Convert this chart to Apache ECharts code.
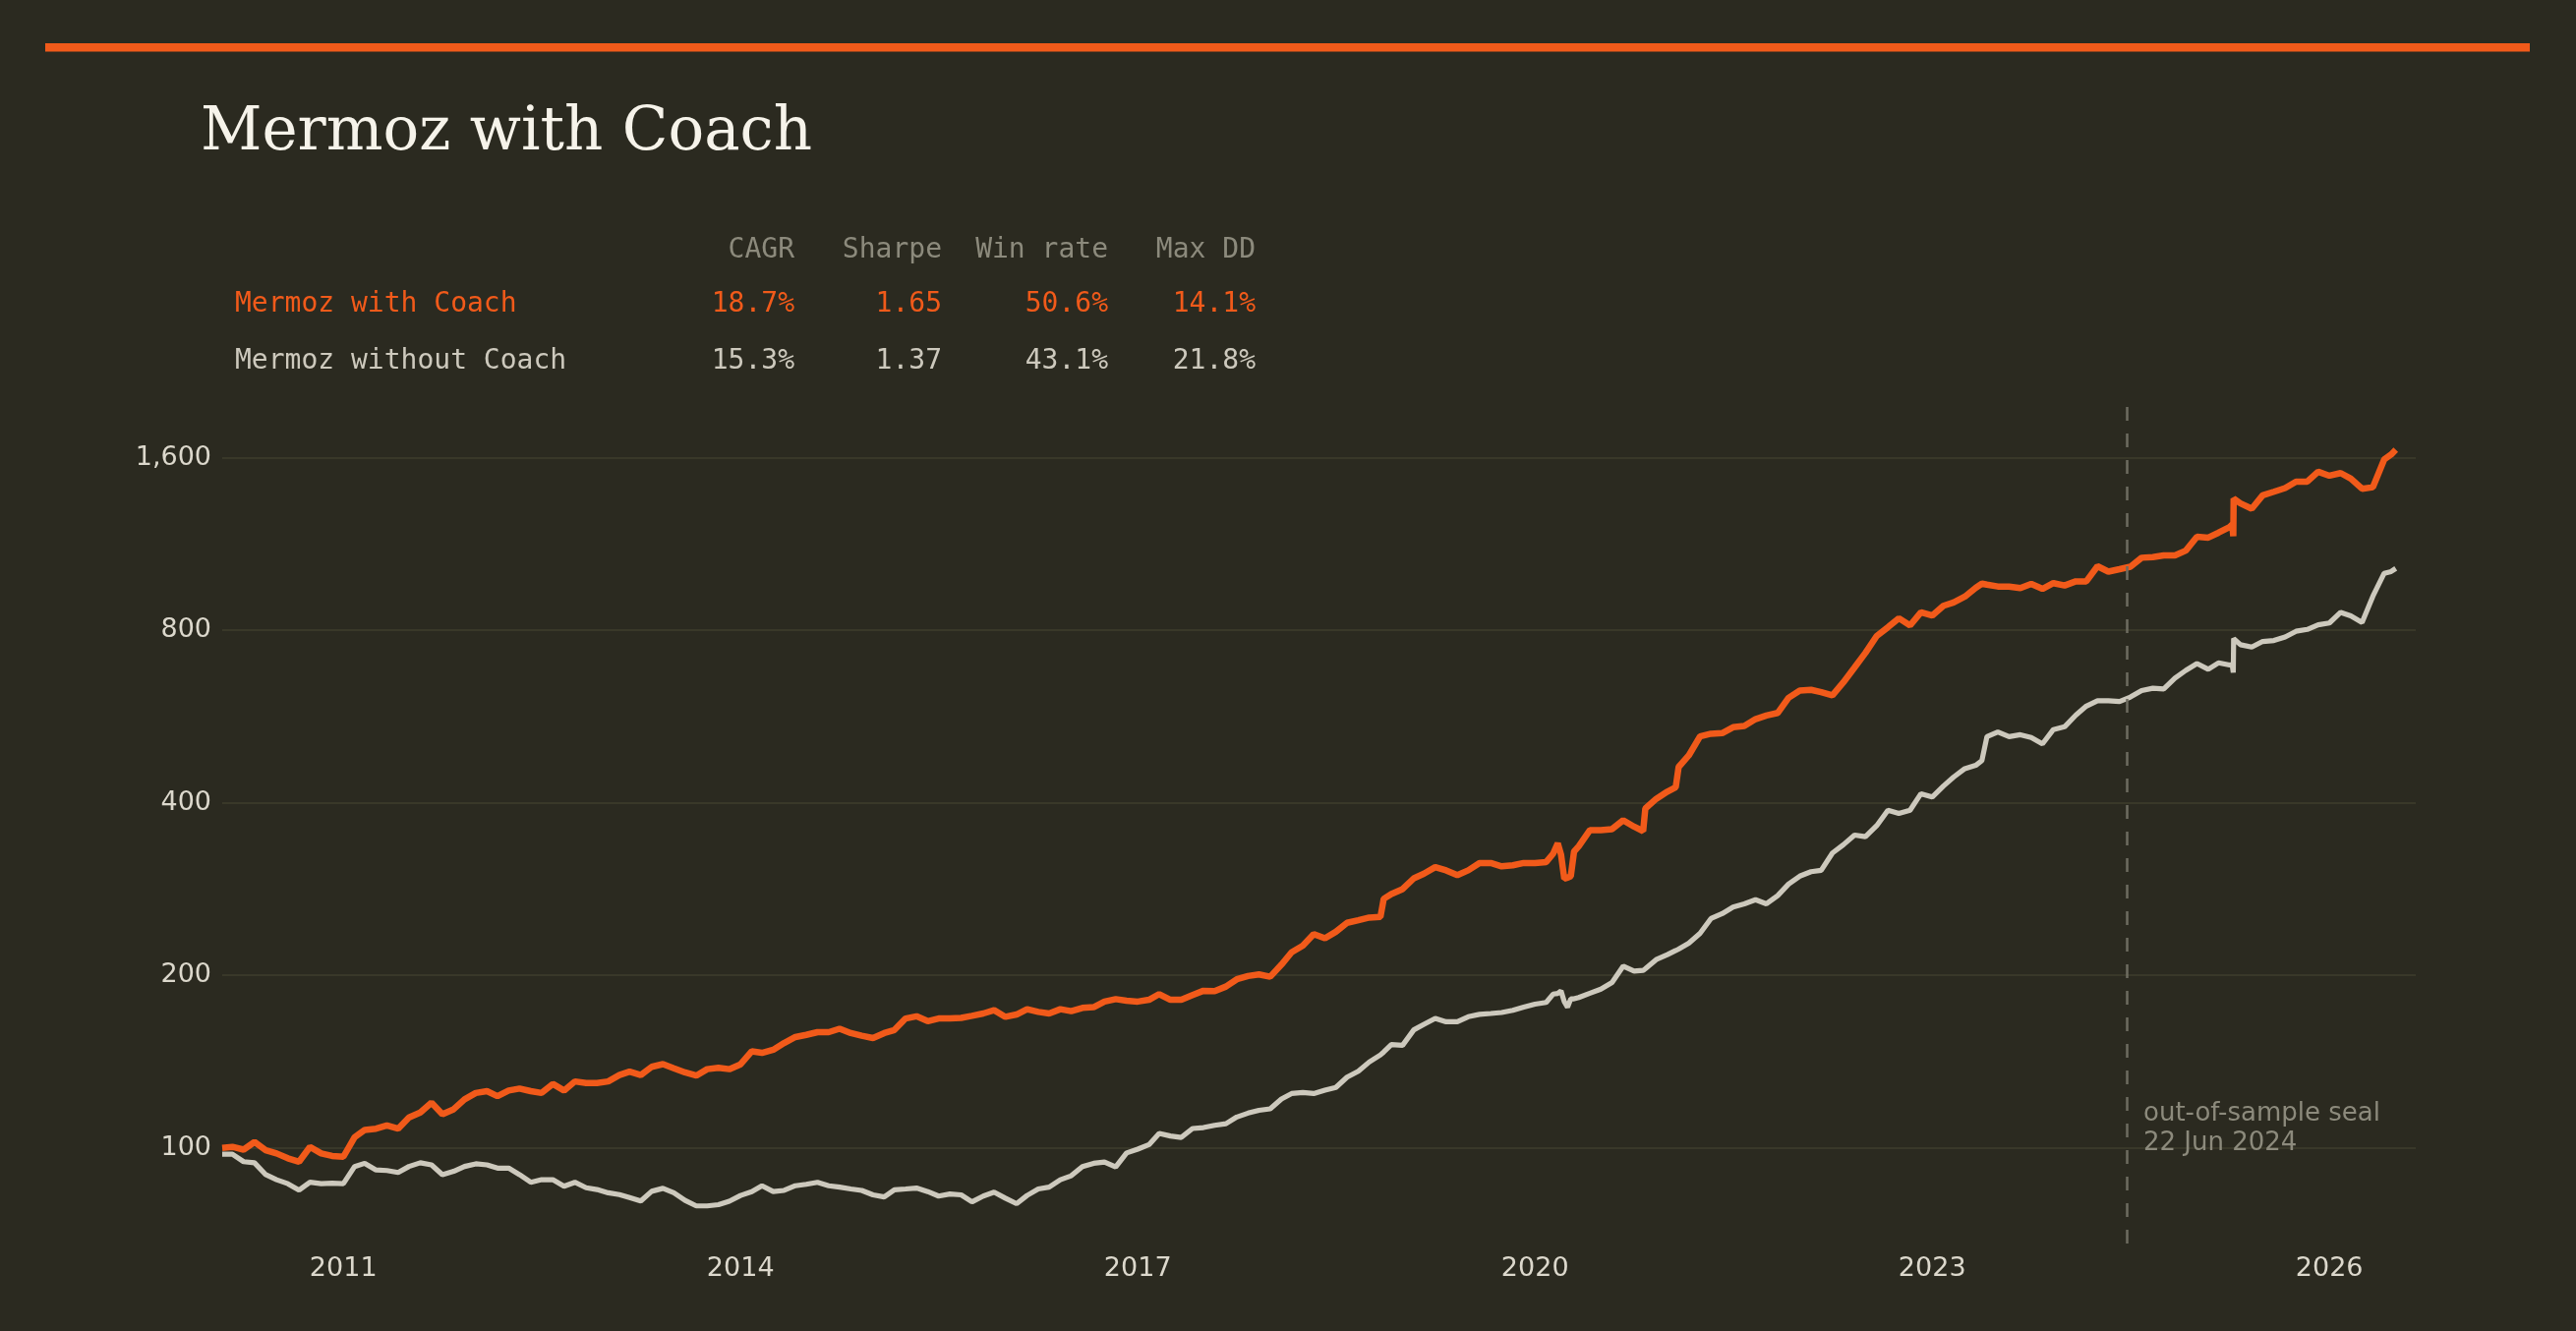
<!DOCTYPE html>
<html>
<head>
<meta charset="utf-8">
<script src="https://cdn.jsdelivr.net/npm/echarts@6/dist/echarts.min.js"></script>
<style>
html,body{margin:0;padding:0;background:#2b2a20;}
#chart{width:2620px;height:1354px;}
</style>
</head>
<body>
<div id="chart"></div>
<script>
// ---------- data ----------
const dates = [
  '2010-02-01','2010-03-01','2010-04-01','2010-05-01','2010-06-01','2010-07-01','2010-08-01','2010-09-01','2010-10-01','2010-11-01','2010-12-01',
  '2011-01-01','2011-02-01','2011-03-01','2011-04-01','2011-05-01','2011-06-01','2011-07-01','2011-08-01','2011-09-01','2011-10-01','2011-11-01','2011-12-01',
  '2012-01-01','2012-02-01','2012-03-01','2012-04-01','2012-05-01','2012-06-01','2012-07-01','2012-08-01','2012-09-01','2012-10-01','2012-11-01','2012-12-01',
  '2013-01-01','2013-02-01','2013-03-01','2013-04-01','2013-05-01','2013-06-01','2013-07-01','2013-08-01','2013-09-01','2013-10-01','2013-11-01','2013-12-01',
  '2014-01-01','2014-02-01','2014-03-01','2014-04-01','2014-05-01','2014-06-01','2014-07-01','2014-08-01','2014-09-01','2014-10-01','2014-11-01','2014-12-01',
  '2015-01-01','2015-02-01','2015-03-01','2015-04-01','2015-05-01','2015-06-01','2015-07-01','2015-08-01','2015-09-01','2015-10-01','2015-11-01','2015-12-01',
  '2016-01-01','2016-02-01','2016-03-01','2016-04-01','2016-05-01','2016-06-01','2016-07-01','2016-08-01','2016-09-01','2016-10-01','2016-11-01','2016-12-01',
  '2017-01-01','2017-02-01','2017-03-01','2017-04-01','2017-05-01','2017-06-01','2017-07-01','2017-08-01','2017-09-01','2017-10-01','2017-11-01','2017-12-01',
  '2018-01-01','2018-02-01','2018-03-01','2018-04-01','2018-05-01','2018-06-01','2018-07-01','2018-08-01','2018-09-01','2018-10-01','2018-11-01','2018-11-10','2018-12-01',
  '2019-01-01','2019-02-01','2019-03-01','2019-04-01','2019-05-01','2019-06-01','2019-07-01','2019-08-01','2019-09-01','2019-10-01','2019-11-01','2019-12-01',
  '2020-01-01','2020-02-01','2020-02-20','2020-03-04','2020-03-13','2020-03-22','2020-03-31','2020-04-09','2020-04-18','2020-05-01','2020-06-01','2020-07-01','2020-08-01','2020-09-01','2020-10-01','2020-10-26','2020-11-01','2020-12-01',
  '2021-01-01','2021-01-24','2021-02-01','2021-03-01','2021-04-01','2021-05-01','2021-06-01','2021-07-01','2021-08-01','2021-09-01','2021-10-01','2021-11-01','2021-12-01',
  '2022-01-01','2022-02-01','2022-03-01','2022-04-01','2022-05-01','2022-06-01','2022-07-01','2022-08-01','2022-09-01','2022-10-01','2022-11-01','2022-12-01',
  '2023-01-01','2023-02-01','2023-03-01','2023-04-01','2023-05-01','2023-05-18','2023-06-01','2023-07-01','2023-08-01','2023-09-01','2023-10-01','2023-11-01','2023-12-01',
  '2024-01-01','2024-02-01','2024-03-01','2024-04-01','2024-05-01','2024-06-01','2024-07-01','2024-08-01','2024-09-01','2024-10-01','2024-11-01','2024-12-01',
  '2025-01-01','2025-02-01','2025-03-01','2025-04-01','2025-04-08','2025-04-11','2025-04-12','2025-05-01','2025-06-01','2025-07-01','2025-08-01','2025-09-01','2025-10-01','2025-11-01','2025-12-01',
  '2026-01-01','2026-02-01','2026-03-01','2026-04-01','2026-05-01','2026-06-01','2026-06-20','2026-07-03'
];

const withCoach = [
  100.0,100.4,99.3,102.4,99.1,97.8,95.9,94.6,100.4,97.8,96.8,
  96.5,104.4,107.5,108.0,109.4,108.0,113.0,115.3,119.9,114.5,116.8,121.5,
  124.7,125.6,123.1,125.9,126.9,125.6,124.7,129.3,125.9,130.6,129.8,129.8,
  130.6,134.0,135.9,134.0,138.5,140.0,137.7,135.4,133.7,137.2,138.0,137.2,
  139.9,147.4,146.5,148.3,152.4,156.1,157.5,159.2,159.2,161.4,158.6,156.9,
  155.5,158.6,160.6,168.2,169.7,166.4,168.2,168.2,168.6,170.0,171.6,173.9,
  169.3,170.9,174.6,172.7,171.6,174.6,173.2,175.5,176.0,180.0,181.8,180.7,
  180.0,181.3,185.5,181.3,181.3,184.8,188.0,187.7,191.2,196.9,199.5,200.8,
  198.9,208.8,219.4,225.3,236.1,232.1,238.3,247.0,249.6,252.3,253.0,272.0,277.4,
  282.9,295.4,300.9,309.0,305.0,299.3,305.0,314.1,314.1,310.0,311.3,314.1,
  314.0,315.4,326,340,325,295,296,298,329,336,358.5,358.5,360,373,363.5,357,391,406.5,
  418.5,426,462,484,522.3,528,529.2,542,545,560,568,574,610,
  628,630,624,616,649,689,731,782,810,840,816,860,
  849,883,895,916,949,965,961,954,954,948,964,945,967,
  958,974,974,1035,1013,1023,1033,1071,1074,1081,1081,1102,
  1165,1161,1184,1212,1224,1168,1358,1332,1304,1376,1396,1417,1454,1454,1513,
  1489,1505,1472,1413,1422,1589,1621,1653
];

const withoutCoach = [
  97.5,97.5,94.6,94.2,89.8,88.0,86.6,84.4,87.1,86.6,86.8,
  86.6,92.8,94.0,91.5,91.3,90.6,92.8,94.2,93.4,89.8,91.0,92.8,
  93.8,93.4,92.2,92.2,89.8,87.1,88.0,88.0,85.7,87.1,85.2,84.6,
  83.5,82.9,81.9,80.8,84.0,85.0,83.5,81.0,79.2,79.2,79.6,80.7,
  82.6,83.9,85.9,83.9,84.3,85.9,86.4,87.1,85.9,85.4,84.8,84.3,
  82.8,82.1,84.5,84.8,85.1,83.9,82.4,83.1,82.8,80.5,82.4,83.7,
  81.7,79.9,82.6,84.8,85.4,88.0,89.4,92.8,94.0,94.5,92.6,98.0,
  99.5,101.3,106.0,104.9,104.3,108.1,108.5,109.5,110.2,113.2,115.0,116.3,
  117.0,121.7,124.4,124.9,124.4,126.1,127.5,132.9,136.1,141.2,145.3,147.0,151.4,
  151.0,160.7,164.3,168.3,166.0,166.0,169.4,171.0,171.6,172.3,173.8,176.1,
  178.2,179.4,185.5,186,188,180,176,182,182,183,186.2,189.2,194.3,207.6,203.5,204,205.4,213.1,
  217.4,221,222.3,227.6,236.7,251.3,256.3,263.1,266.6,271,266.6,275.5,288.6,
  298,303.4,305,327,338,351.5,349.1,365,388.3,383.3,388.3,415,
  409.5,428,443.6,459,465,474,522,532,522,526,520,507,537,
  543,569,590,603,603,601,612,628,634,632,660,681,
  700,684,702,696,697,675,774,755,748,765,768,779,797,803,818,
  824,860,848,826,918,1006,1013,1026
];

const yTickValues = [100, 200, 400, 800, 1600];
const xTickYears = [2011, 2014, 2017, 2020, 2023, 2026];
const statHeaders = ['CAGR', 'Sharpe', 'Win rate', 'Max DD'];
const statNames = ['Mermoz with Coach', 'Mermoz without Coach'];
const statValues = [
  ['18.7%', '1.65', '50.6%', '14.1%'],
  ['15.3%', '1.37', '43.1%', '21.8%']
];
const sealDate = '2024-06-22';
const sealText = 'out-of-sample seal\n22 Jun 2024';
const titleText = 'Mermoz with Coach';
const axisStart = '2010-02-01';
const axisEnd = '2026-08-27';

// ---------- styling ----------
const BG = '#2b2a20';
const ORANGE = '#f15a1a';
const LIGHT = '#cdc9bd';
const MUTED = '#8c8a7c';
const LABEL = '#dcd8cc';

// date string -> fractional year (x coordinate handled by the value axis)
function yearFrac(s) {
  const p = s.split('-').map(Number);
  const t0 = Date.UTC(p[0], 0, 1), t1 = Date.UTC(p[0] + 1, 0, 1);
  return p[0] + (Date.UTC(p[0], p[1] - 1, p[2]) - t0) / (t1 - t0);
}

const seriesA = dates.map((d, i) => [yearFrac(d), withCoach[i]]);
const seriesB = dates.map((d, i) => [yearFrac(d), withoutCoach[i]]);

// stats table graphics
const colRight = [808, 958, 1127, 1277];
const rowY = [309.5, 368];
const rowColor = [ORANGE, LIGHT];
const mono = '"DejaVu Sans Mono", monospace';
const tableEls = [];
statHeaders.forEach((h, j) => {
  tableEls.push({type: 'text', x: colRight[j], y: 254.5, z: 100, silent: true,
    style: {text: h, fill: MUTED, fontSize: 28, fontFamily: mono, align: 'right', textAlign: 'right', verticalAlign: 'middle', textVerticalAlign: 'middle'}});
});
statNames.forEach((n, i) => {
  tableEls.push({type: 'text', x: 239, y: rowY[i], z: 100, silent: true,
    style: {text: n, fill: rowColor[i], fontSize: 28, fontFamily: mono, align: 'left', textAlign: 'left', verticalAlign: 'middle', textVerticalAlign: 'middle'}});
  statValues[i].forEach((v, j) => {
    tableEls.push({type: 'text', x: colRight[j], y: rowY[i], z: 100, silent: true,
      style: {text: v, fill: rowColor[i], fontSize: 28, fontFamily: mono, align: 'right', textAlign: 'right', verticalAlign: 'middle', textVerticalAlign: 'middle'}});
  });
});

const chart = echarts.init(document.getElementById('chart'), null, {renderer: 'canvas'});
chart.setOption({
  backgroundColor: BG,
  animation: false,
  textStyle: {fontFamily: '"DejaVu Sans", sans-serif'},
  grid: {left: 226, right: 163, top: 410, bottom: 89, containLabel: false, outerBoundsMode: 'none'},
  xAxis: {
    type: 'value',
    min: yearFrac(axisStart),
    max: yearFrac(axisEnd),
    axisLine: {show: false},
    axisTick: {show: false, customValues: xTickYears},
    splitLine: {show: false},
    axisLabel: {
      customValues: xTickYears,
      color: LABEL, fontSize: 27, fontFamily: '"DejaVu Sans", sans-serif', margin: 12,
      formatter: v => String(Math.round(v))
    }
  },
  yAxis: {
    type: 'log',
    logBase: 2,
    min: 68.1,
    max: 1994,
    axisLine: {show: false},
    axisTick: {show: false, customValues: yTickValues},
    splitLine: {show: true, lineStyle: {color: '#393829', width: 2}},
    axisLabel: {
      customValues: yTickValues,
      color: LABEL, fontSize: 27, fontFamily: '"DejaVu Sans", sans-serif', margin: 11,
      formatter: v => Math.round(v).toLocaleString('en-US')
    }
  },
  series: [
    {
      name: 'Mermoz without Coach', type: 'line', data: seriesB, showSymbol: false, symbol: 'none',
      lineStyle: {color: LIGHT, width: 5.2}, itemStyle: {color: LIGHT}, z: 2,
      markLine: {
        silent: true, symbol: ['none', 'none'], label: {show: false},
        lineStyle: {color: '#6e6c60', width: 2.5, type: [14, 13]},
        data: [{xAxis: yearFrac(sealDate)}]
      }
    },
    {
      name: 'Mermoz with Coach', type: 'line', data: seriesA, showSymbol: false, symbol: 'none',
      lineStyle: {color: ORANGE, width: 6.5}, itemStyle: {color: ORANGE}, z: 3
    }
  ],
  graphic: [
    {type: 'rect', silent: true, z: 100, shape: {x: 46, y: 44, width: 2527, height: 8.5}, style: {fill: ORANGE}},
    {type: 'text', x: 204, y: 136, z: 100, silent: true,
      style: {text: titleText, fill: '#f6f3ea', fontSize: 61, fontFamily: '"DejaVu Serif", serif', align: 'left', textAlign: 'left', verticalAlign: 'middle', textVerticalAlign: 'middle'}},
    ...tableEls,
    {type: 'text', x: 2180, y: 1148.5, z: 100, silent: true,
      style: {text: sealText, fill: MUTED, fontSize: 26, lineHeight: 30, fontFamily: '"DejaVu Sans", sans-serif', align: 'left', textAlign: 'left', verticalAlign: 'middle', textVerticalAlign: 'middle'}}
  ]
});
</script>
</body>
</html>
